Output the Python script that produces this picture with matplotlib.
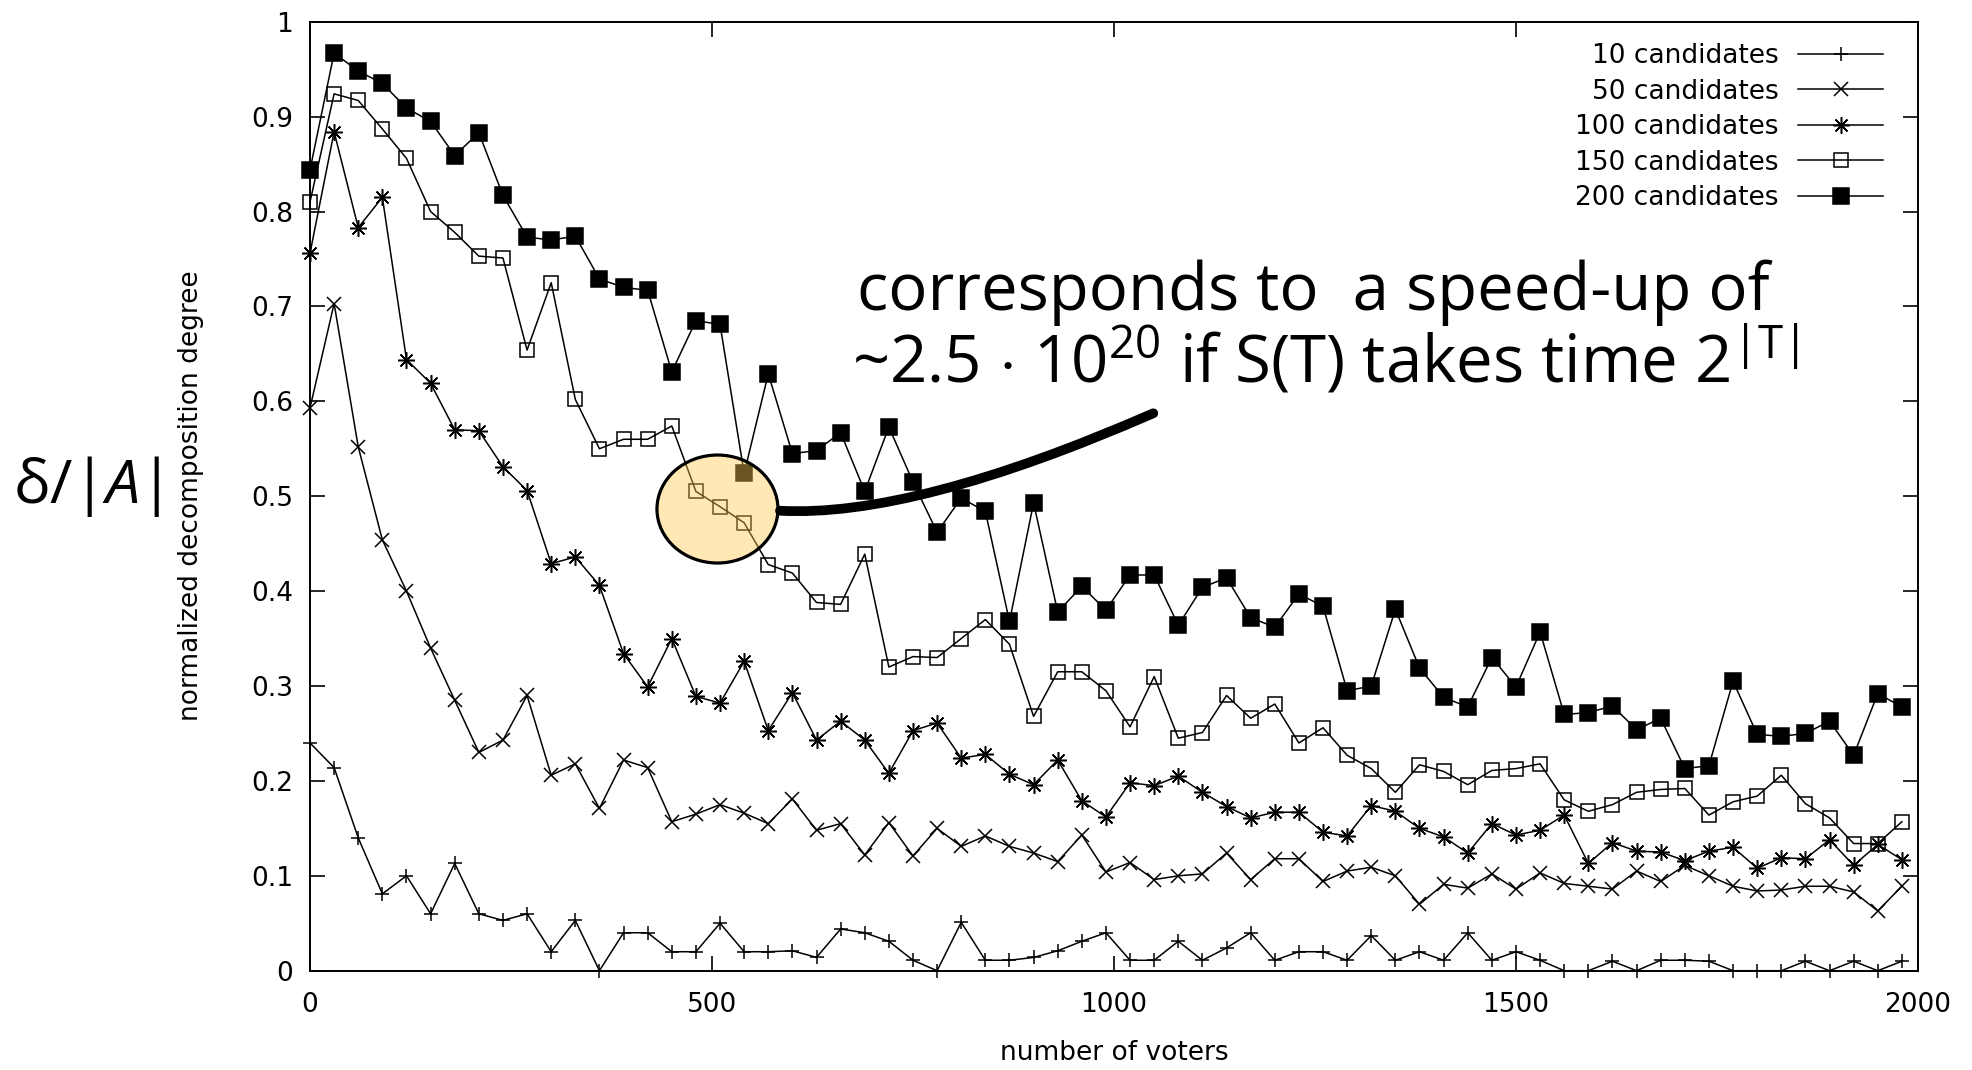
import matplotlib
matplotlib.use('Agg')
import matplotlib.pyplot as plt
from matplotlib.patches import Ellipse, PathPatch
from matplotlib.path import Path

# number of voters (x axis)
voters = [0, 30, 60, 90, 120, 150, 180, 210, 240, 270,
          300, 330, 360, 390, 420, 450, 480, 510, 540, 570,
          600, 630, 660, 690, 720, 750, 780, 810, 840, 870,
          900, 930, 960, 990, 1020, 1050, 1080, 1110, 1140, 1170,
          1200, 1230, 1260, 1290, 1320, 1350, 1380, 1410, 1440, 1470,
          1500, 1530, 1560, 1590, 1620, 1650, 1680, 1710, 1740, 1770,
          1800, 1830, 1860, 1890, 1920, 1950, 1980]

# normalized decomposition degree per number of candidates
c10 = [0.240, 0.214, 0.140, 0.081, 0.100, 0.060, 0.113, 0.060, 0.053, 0.060,
       0.020, 0.053, 0.000, 0.040, 0.040, 0.020, 0.020, 0.050, 0.020, 0.020,
       0.021, 0.014, 0.044, 0.040, 0.031, 0.011, 0.000, 0.051, 0.011, 0.011,
       0.014, 0.021, 0.031, 0.040, 0.011, 0.011, 0.031, 0.011, 0.024, 0.040,
       0.011, 0.020, 0.020, 0.011, 0.037, 0.011, 0.020, 0.011, 0.040, 0.011,
       0.020, 0.011, 0.000, 0.000, 0.010, 0.000, 0.011, 0.011, 0.010, 0.000,
       0.000, 0.000, 0.010, 0.000, 0.010, 0.000, 0.010]
c50 = [0.593, 0.703, 0.552, 0.454, 0.400, 0.340, 0.285, 0.230, 0.243, 0.290,
       0.206, 0.218, 0.171, 0.222, 0.214, 0.157, 0.165, 0.175, 0.166, 0.155,
       0.181, 0.148, 0.155, 0.122, 0.156, 0.121, 0.150, 0.131, 0.142, 0.131,
       0.124, 0.115, 0.143, 0.104, 0.114, 0.096, 0.100, 0.102, 0.124, 0.096,
       0.118, 0.118, 0.094, 0.105, 0.109, 0.100, 0.070, 0.091, 0.087, 0.102,
       0.086, 0.103, 0.092, 0.089, 0.086, 0.105, 0.094, 0.111, 0.100, 0.089,
       0.084, 0.085, 0.089, 0.089, 0.083, 0.063, 0.089]
c100 = [0.756, 0.884, 0.783, 0.815, 0.644, 0.619, 0.570, 0.569, 0.531, 0.506,
        0.429, 0.436, 0.406, 0.334, 0.299, 0.350, 0.289, 0.282, 0.326, 0.253,
        0.293, 0.243, 0.263, 0.243, 0.208, 0.253, 0.261, 0.224, 0.228, 0.207,
        0.196, 0.222, 0.179, 0.162, 0.198, 0.195, 0.205, 0.188, 0.173, 0.161,
        0.167, 0.167, 0.146, 0.142, 0.174, 0.168, 0.150, 0.141, 0.124, 0.155,
        0.143, 0.148, 0.164, 0.113, 0.135, 0.126, 0.125, 0.116, 0.126, 0.130,
        0.108, 0.119, 0.118, 0.138, 0.111, 0.133, 0.117]
c150 = [0.810, 0.924, 0.917, 0.887, 0.856, 0.800, 0.778, 0.753, 0.751, 0.654,
        0.725, 0.602, 0.550, 0.560, 0.560, 0.574, 0.505, 0.489, 0.472, 0.428,
        0.419, 0.388, 0.386, 0.439, 0.320, 0.331, 0.330, 0.350, 0.370, 0.344,
        0.268, 0.315, 0.315, 0.295, 0.257, 0.310, 0.245, 0.251, 0.290, 0.266,
        0.281, 0.240, 0.256, 0.227, 0.213, 0.188, 0.217, 0.210, 0.196, 0.211,
        0.213, 0.218, 0.180, 0.168, 0.175, 0.188, 0.191, 0.192, 0.164, 0.178,
        0.184, 0.206, 0.176, 0.161, 0.134, 0.134, 0.157]
c200 = [0.844, 0.967, 0.948, 0.935, 0.909, 0.895, 0.859, 0.883, 0.817, 0.773,
        0.770, 0.774, 0.729, 0.720, 0.717, 0.631, 0.685, 0.681, 0.524, 0.629,
        0.545, 0.548, 0.567, 0.505, 0.573, 0.515, 0.462, 0.498, 0.484, 0.368,
        0.493, 0.378, 0.405, 0.380, 0.417, 0.417, 0.364, 0.404, 0.414, 0.372,
        0.362, 0.397, 0.384, 0.295, 0.300, 0.381, 0.319, 0.288, 0.278, 0.330,
        0.299, 0.357, 0.270, 0.272, 0.279, 0.254, 0.266, 0.213, 0.216, 0.305,
        0.249, 0.247, 0.250, 0.263, 0.227, 0.292, 0.278]

labels = ['10 candidates', '50 candidates', '100 candidates',
          '150 candidates', '200 candidates']
xticks = [0, 500, 1000, 1500, 2000]
xticklabels = ['0', '500', '1000', '1500', '2000']
yticks = [0, 0.1, 0.2, 0.3, 0.4, 0.5, 0.6, 0.7, 0.8, 0.9, 1]
yticklabels = ['0', '0.1', '0.2', '0.3', '0.4', '0.5', '0.6', '0.7', '0.8', '0.9', '1']

plt.rcParams['font.family'] = ['DejaVu Sans']
plt.rcParams['mathtext.fontset'] = 'custom'
plt.rcParams['mathtext.rm'] = 'Open Sans'
plt.rcParams['mathtext.it'] = 'Open Sans:italic'

fig = plt.figure(figsize=(19.72, 10.70), dpi=100)
ax = fig.add_axes([0.1572, 0.0928, 0.8154, 0.8869])

# gnuplot style point types: +, x, *, open box, filled box
styles = [dict(marker='+', markersize=10, mfc='black'),
          dict(marker='x', markersize=10, mfc='black'),
          dict(marker=(8, 2, 0), markersize=12, mfc='black'),
          dict(marker='s', markersize=10.5, mfc='none'),
          dict(marker='s', markersize=11, mfc='black')]
series = [c10, c50, c100, c150, c200]
for i in range(len(series)):
    st = styles[i]
    ax.plot(voters, series[i], color='black', lw=1.1, marker=st['marker'],
            markersize=st['markersize'], mew=1.1, mfc=st['mfc'], mec='black',
            label=labels[i], clip_on=False, zorder=3 + i)

ax.set_xlim(0, 2000)
ax.set_ylim(0, 1)
ax.set_xticks(xticks)
ax.set_xticklabels(xticklabels)
ax.set_yticks(yticks)
ax.set_yticklabels(yticklabels)
ax.tick_params(direction='in', length=10.8, width=1.2, top=True, right=True,
               labelsize=19, colors='black')
ax.tick_params(axis='y', pad=12)
ax.tick_params(axis='x', pad=15)
for s in ax.spines.values():
    s.set_linewidth(1.4)

fig.text(0.5649, 0.0095, 'number of voters', fontsize=19, ha='center', va='baseline')
fig.text(191 / 1972, 0.5364, 'normalized decomposition degree', fontsize=19,
         rotation=90, ha='center', va='center')

leg = ax.legend(loc='upper right', bbox_to_anchor=(0.9782, 0.9775), markerfirst=False,
                frameon=False, handlelength=3.2, handletextpad=0.75, labelspacing=0.36,
                borderpad=0, borderaxespad=0, fontsize=19)

# highlight circle (translucent, like a marker pen)
circ = Ellipse((506.8, 0.4865), width=150.5, height=0.1138,
               facecolor=(1.0, 0.79, 0.30, 0.42), edgecolor='black', lw=2.3, zorder=20)
ax.add_patch(circ)

# brush stroke from the circle to the text
verts = [(584.6, 0.4847), (750.4, 0.4770), (1048.9, 0.5874)]
brush = PathPatch(Path(verts, [Path.MOVETO, Path.CURVE3, Path.CURVE3]),
                  facecolor='none', edgecolor='black', lw=7, capstyle='round',
                  zorder=21, clip_on=False)
ax.add_patch(brush)

fig.text(857 / 1972, 0.7100, 'corresponds to  a speed-up of', fontsize=47,
         family='Open Sans', va='baseline', ha='left', zorder=30)
fig.text(852 / 1972, 0.6425,
         r'~2.5$\hspace{0.1}\cdot\hspace{0.1}$10$^{20}$ if S(T) takes time 2$^{\mathrm{|T|}}$',
         fontsize=47, family='Open Sans', va='baseline', ha='left', zorder=30)

fig.text(13 / 1972, 0.5299, r'δ/|$A$|', fontsize=44, family='Open Sans',
         va='baseline', ha='left')

fig.savefig('out.png', dpi=100)
